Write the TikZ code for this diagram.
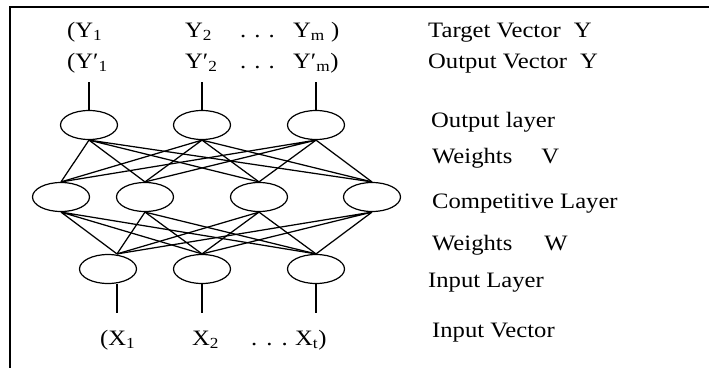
\documentclass[tikz,border=0pt]{standalone}
\usepackage{fontspec}
\setmainfont[FakeStretch=1.12]{Liberation Serif}
\usetikzlibrary{shapes.geometric}
\newcommand{\pr}{\char"2032}

\begin{document}
\begin{tikzpicture}[x=1pt,y=-1pt,
  every node/.style={font=\fontsize{22}{26}\selectfont},
  unit/.style={draw, ellipse, line width=1.2pt, minimum width=57pt,
               minimum height=29pt, inner sep=0pt},
  lbl/.style={anchor=base west, inner sep=0pt},
  wire/.style={line width=1.25pt}]
  \useasboundingbox (0,0) rectangle (709,368);
  \draw[line width=1.6pt] (709,7) -| (10,368);
  \node[unit] (o1) at (89,125) {};
  \node[unit] (o2) at (202,125) {};
  \node[unit] (o3) at (316,125) {};
  \node[unit] (c1) at (61,197) {};
  \node[unit] (c2) at (145,197) {};
  \node[unit] (c3) at (259,197) {};
  \node[unit] (c4) at (372,197) {};
  \node[unit] (i1) at (108,269) {};
  \node[unit] (i2) at (202,269) {};
  \node[unit] (i3) at (316,269) {};
  \coordinate (y1) at (89,82);
  \coordinate (y2) at (202,82);
  \coordinate (y3) at (316,82);
  \coordinate (x1) at (117,313);
  \coordinate (x2) at (202,313);
  \coordinate (x3) at (316,313);
  \draw[wire] (y1)--(o1.north) (y2)--(o2.north) (y3)--(o3.north);
  \draw[wire] ([xshift=9pt]i1.south)--(x1) (i2.south)--(x2) (i3.south)--(x3);
  \draw[wire] (o1.south)--(c1.north) (o1.south)--(c2.north)
              (o1.south)--(c3.north) (o1.south)--(c4.north);
  \draw[wire] (o2.south)--(c1.north) (o2.south)--(c2.north)
              (o2.south)--(c3.north) (o2.south)--(c4.north);
  \draw[wire] (o3.south)--(c1.north) (o3.south)--(c2.north)
              (o3.south)--(c3.north) (o3.south)--(c4.north);
  \draw[wire] (c1.south)--([xshift=9pt]i1.north) (c1.south)--(i2.north)
              (c1.south)--(i3.north);
  \draw[wire] (c2.south)--([xshift=9pt]i1.north) (c2.south)--(i2.north)
              (c2.south)--(i3.north);
  \draw[wire] (c3.south)--([xshift=9pt]i1.north) (c3.south)--(i2.north)
              (c3.south)--(i3.north);
  \draw[wire] (c4.south)--([xshift=9pt]i1.north) (c4.south)--(i2.north)
              (c4.south)--(i3.north);
  \node[lbl] (ty1) at (67,37) {(Y\textsubscript{1}};
  \node[lbl] (ty2) at (185,37) {Y\textsubscript{2}};
  \node[lbl] (tyd) at (240,37) {.\hspace{8pt}.\hspace{8pt}.};
  \node[lbl] (tym) at (293,37) {Y\textsubscript{m} )};
  \node[lbl] (oy1) at (67,68) {(Y\pr\textsubscript{1}};
  \node[lbl] (oy2) at (185,68) {Y\pr\textsubscript{2}};
  \node[lbl] (oyd) at (240,68) {.\hspace{8pt}.\hspace{8pt}.};
  \node[lbl] (oym) at (293,68) {Y\pr\textsubscript{m})};
  \node[lbl] (ix1) at (100,345) {(X\textsubscript{1}};
  \node[lbl] (ix2) at (192,345) {X\textsubscript{2}};
  \node[lbl] (ixd) at (251,345) {.\hspace{9pt}.\hspace{9pt}.};
  \node[lbl] (ixt) at (295,345) {X\textsubscript{t})};
  \node[lbl] (tv) at (428,37) {Target Vector\hspace{13pt}Y};
  \node[lbl] (ov) at (428,68) {Output Vector\hspace{13pt}Y};
  \node[lbl] (ol) at (431,127) {Output layer};
  \node[lbl] (wv) at (432,163) {Weights\hspace{29pt}V};
  \node[lbl] (cl) at (432,208) {Competitive Layer};
  \node[lbl] (ww) at (432,250) {Weights\hspace{32pt}W};
  \node[lbl] (il) at (428,287) {Input Layer};
  \node[lbl] (iv) at (432,337) {Input Vector};
\end{tikzpicture}
\end{document}
